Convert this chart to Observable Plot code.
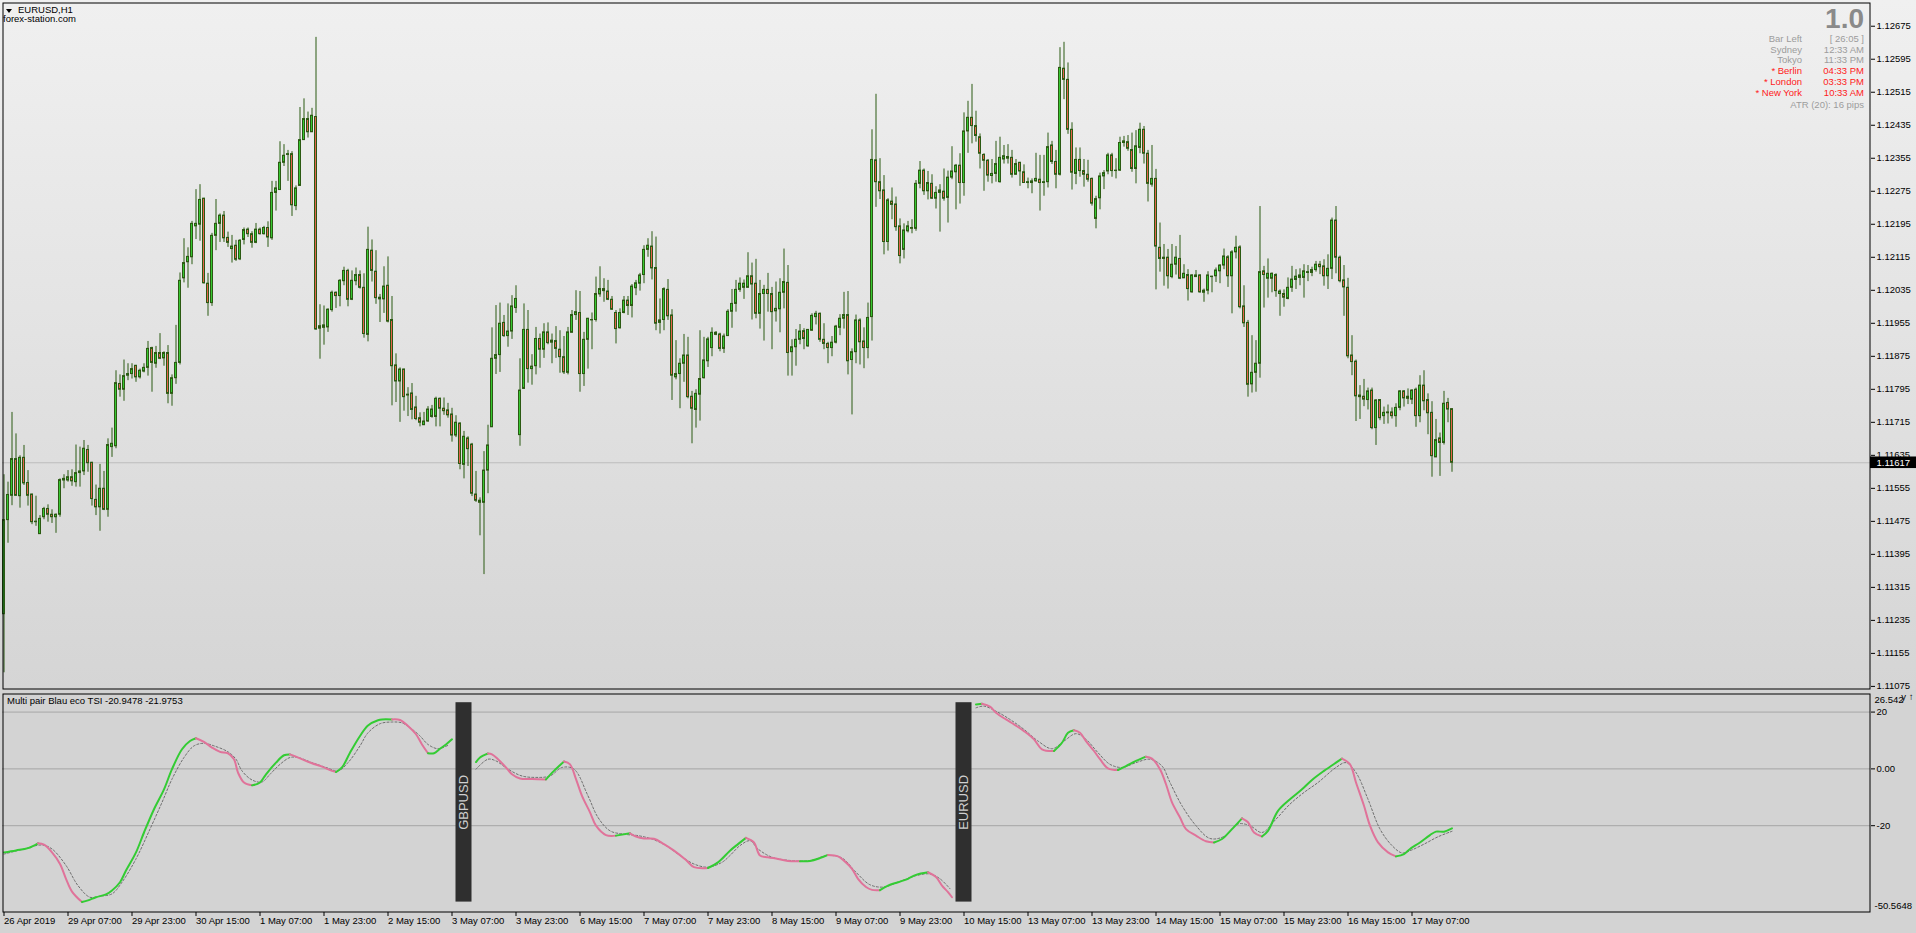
<!DOCTYPE html>
<html><head><meta charset="utf-8"><title>EURUSD,H1</title>
<script src="https://cdn.jsdelivr.net/npm/d3@7"></script>
<script src="https://cdn.jsdelivr.net/npm/@observablehq/plot@0.6"></script>
<style>
html,body{margin:0;padding:0;}
body{width:1916px;height:933px;overflow:hidden;position:relative;background:#d3d3d3;font-family:"Liberation Sans",Arial,sans-serif;}
#main{position:absolute;left:0;top:0;width:1916px;height:690px;background:linear-gradient(to bottom,#f0f0f0,#d5d5d5);}
#ind{position:absolute;left:0;top:690px;width:1916px;height:243px;background:#d3d3d3;}
#main svg,#ind svg{display:block;}
.t{position:absolute;font-size:9.5px;line-height:1;white-space:nowrap;}
</style></head><body>
<div id="main"></div>
<div id="ind"></div>
<div id="overlay"></div>
<script>
// ---------- DATA (prices in pips above 1.1100) ----------
const opens = [25,47.8,53.7,62.6,53.6,62.9,56.8,54.0,47.3,44.4,
48.5,50.5,49.1,48.5,49.1,57.4,57.4,58.2,57.0,59.2,
59.6,64.8,61.7,52.7,50.9,55.4,50.3,65.5,65.7,80.8,
79.4,82.8,83.2,85.2,82.4,83.8,84.7,89.5,85.7,88.3,
87.0,88.3,78.4,82.2,85.9,106.4,110.3,111.5,119.0,119.4,
125.7,105.1,100.4,116.7,119.6,121.6,116.2,113.5,114.3,111.0,
115.7,118.2,117.1,115.0,118.2,117.1,118.6,116.1,127.1,127.8,
134.4,136.3,136.5,123.9,128.8,139.9,145.0,141.8,145.5,94.8,
94.4,94.5,98.7,102.9,102.1,105.7,108.2,101.2,105.7,107.2,
104.1,92.7,113.1,108.0,101.3,101.3,104.6,96.3,85.3,81.4,
84.3,78.0,78.5,75.1,72.5,70.8,71.7,72.8,72.8,77.2,
74.8,74.4,73.4,68.3,71.2,61.2,67.6,66.1,54.0,52.5,
52.0,59.8,70.3,86.9,87.8,95.6,92.4,93.5,99.2,68.4,
79.6,93.9,84.4,85.1,91.7,89.1,93.3,90.8,91.2,89.1,
87.3,83.5,93.2,97.5,98.0,83.2,91.5,96.2,96.3,102.5,
103.8,103.2,101.2,98.0,94.3,98.0,101.0,99.7,104.0,105.1,
107.2,113.3,114.1,108.9,95.6,96.3,103.6,97.4,82.4,83.2,
85.7,87.7,77.7,74.5,78.2,82.2,86.3,89.5,93.2,92.8,
89.3,92.4,98.3,100.2,103.6,104.1,104.1,106.9,105.1,97.8,
102.6,103.6,102.6,98.4,98.9,102.9,105.3,88.5,89.7,91.5,
93.6,89.9,93.7,97.0,97.8,91.5,90.5,89.5,90.8,94.4,
96.6,97.5,86.6,88.5,96.2,91.1,89.5,97.0,135.0,129.7,
127.7,115.2,125.0,124.3,119.0,113.3,117.8,118.6,118.4,129.3,
132.5,127.5,129.3,125.7,127.1,127.4,125.9,130.8,132.1,133.7,
129.5,142.0,145.3,143.3,140.6,136.3,134.9,131.2,131.7,129.7,
135.2,135.4,135.6,131.5,134.4,132.1,129.5,129.5,129.9,130.3,
129.5,129.7,138.6,134.6,131.5,157.2,154.5,142.4,131.7,135.1,
132.4,131.5,130.5,120.8,125.8,131.1,132.3,136.2,132.4,132.5,
139.2,139.4,137.5,132.9,138.0,142.4,136.6,129.1,130.5,113.8,
111.1,111.4,106.7,109.7,111.1,106.4,107.2,103.0,106.7,107.1,
102.9,103.4,106.7,106.9,108.1,109.5,111.5,106.9,112.7,113.9,
99.6,95.6,80.7,83.5,85.7,108.1,106.3,106.3,107.2,102.6,
102.6,101.4,104.1,106.0,106.5,106.5,107.7,107.7,108.4,109.7,
109.3,106.9,108.7,120.4,111.4,105.9,104.1,87.7,86.2,77.6,
77.7,76.9,79.2,70.1,76.9,73.0,73.7,73.9,73.0,75.0,
79.0,77.7,77.0,79.4,73.0,80.4,76.9,73.8,63.0,67.6,
66.5,76.2,74.7];
const highs = [58.8,57.0,73.9,68.7,63.4,65.9,59.8,54.1,53.6,48.9,
50.9,51.5,50.3,49.3,57.8,58.8,59.8,60.0,66.0,65.5,
67.1,65.9,61.8,56.3,61.3,59.6,67.5,70.1,84.0,83.0,
86.6,85.7,85.7,85.3,84.4,85.7,91.1,89.7,89.9,93.0,
88.6,90.1,83.0,95.0,107.7,116.0,113.8,120.2,127.9,129.1,
125.8,107.6,117.3,125.5,122.0,122.6,117.6,116.8,115.6,115.8,
118.6,118.6,117.7,119.7,118.6,119.0,120.1,129.9,129.9,139.5,
138.8,137.4,137.1,128.8,147.8,149.9,146.7,147.6,164.8,100.0,
99.7,99.0,103.3,103.1,106.1,109.1,108.6,108.2,108.9,108.2,
107.5,118.8,115.7,113.1,102.5,109.2,111.6,102.0,88.1,84.7,
84.4,79.9,80.9,77.8,73.8,73.9,75.3,75.6,77.6,77.4,
77.4,76.1,74.9,73.1,71.4,69.3,68.0,66.4,59.6,53.2,
64.4,70.8,94.4,99.8,100.4,97.4,100.2,102.2,104.6,86.9,
100.2,98.6,87.9,94.5,92.9,95.4,95.6,92.9,94.7,93.7,
92.3,94.5,98.6,103.4,103.2,93.3,96.7,98.0,106.7,109.2,
106.3,105.9,102.0,98.6,99.0,102.0,102.0,104.9,105.9,107.6,
114.3,116.0,117.7,116.4,101.4,104.1,106.1,98.8,91.3,86.9,
92.8,92.1,79.0,79.4,93.7,92.1,92.1,94.4,93.5,93.1,
92.9,98.8,103.7,105.9,106.5,106.0,112.6,110.1,111.0,105.9,
104.7,107.6,104.2,105.5,106.3,113.5,109.5,91.5,94.0,95.2,
94.2,94.0,97.8,98.4,98.0,95.4,90.9,92.3,95.0,97.6,
103.0,103.2,89.3,97.5,96.6,94.4,100.4,142.4,151.0,135.4,
131.3,125.7,128.3,126.1,120.8,119.6,120.2,120.6,130.1,134.7,
132.9,132.3,131.5,128.6,129.1,132.9,132.4,138.3,134.0,136.6,
146.5,149.3,153.4,146.9,141.4,136.6,135.2,135.2,139.6,140.6,
138.6,138.8,137.4,135.2,134.5,133.9,130.7,130.5,136.7,136.2,
136.2,141.6,139.6,137.4,162.3,163.6,158.6,144.1,138.0,138.0,
135.2,135.0,130.7,126.3,131.9,132.5,136.7,136.7,135.4,140.6,
140.8,141.0,141.6,142.2,144.0,143.2,137.4,138.6,132.8,119.8,
114.6,113.4,114.6,114.1,116.8,109.7,108.5,107.3,108.3,107.3,
103.8,108.0,106.9,108.9,109.7,113.5,111.9,113.1,116.6,114.3,
104.6,96.2,92.5,91.3,123.8,109.3,111.1,107.7,107.5,103.6,
103.6,106.5,109.3,108.5,108.7,109.7,109.5,109.1,110.5,110.5,
110.9,112.1,121.0,123.8,111.8,109.5,106.4,92.5,86.6,80.4,
81.9,79.8,79.8,77.0,77.0,75.2,75.7,75.0,76.0,79.2,
79.2,79.6,79.4,79.8,82.8,84.0,78.4,76.5,72.2,68.9,
79.0,77.3,74.7];
const lows = [10.8,42.2,51.3,53.6,50.7,56.2,51.2,46.7,46.3,44.4,
47.9,47.3,47.0,44.6,48.5,55.4,57.0,56.0,55.8,55.8,
58.6,59.4,51.2,48.9,45.1,50.1,48.5,63.0,65.1,77.6,
76.6,81.6,82.0,81.2,82.0,83.5,82.7,78.8,84.6,86.7,
85.1,76.0,75.4,80.7,85.4,105.3,104.0,109.7,115.8,115.4,
105.0,97.2,99.6,113.1,115.1,115.1,113.9,110.1,110.5,110.7,
114.5,116.3,113.7,114.8,116.9,116.9,113.9,115.6,122.7,127.8,
133.5,129.9,121.4,122.8,128.8,139.9,140.4,141.8,93.8,86.8,
90.2,93.3,98.2,99.1,99.5,104.6,99.5,101.0,104.6,103.8,
91.9,91.0,105.5,100.1,95.7,97.9,95.6,75.5,76.3,71.5,
74.2,72.9,72.1,71.9,70.4,70.8,71.5,72.5,70.4,70.4,
73.2,72.5,66.7,67.8,60.0,57.8,60.8,53.5,52.1,44.0,
34.6,54.2,70.3,83.1,83.6,92.1,89.7,91.6,97.9,65.7,
79.6,81.0,80.5,83.0,84.6,87.0,90.3,85.7,87.0,83.4,
83.1,83.0,93.2,96.2,78.8,80.2,84.4,89.1,95.8,101.8,
100.6,101.0,98.6,90.5,94.1,97.8,97.4,96.8,102.2,103.3,
105.1,111.5,106.0,93.7,92.9,93.7,96.2,76.8,81.8,74.8,
81.2,77.2,66.3,70.1,71.8,82.0,84.8,87.4,92.5,88.6,
88.2,92.4,94.3,98.2,103.0,101.3,104.1,96.3,96.6,94.1,
91.2,98.2,89.1,95.8,93.2,99.0,82.7,82.7,85.1,90.3,
89.1,89.7,93.6,95.1,90.9,89.1,85.7,87.4,90.5,92.5,
94.1,83.0,73.3,85.7,85.4,84.5,86.9,91.2,123.6,125.5,
112.1,113.0,120.6,117.8,109.9,111.1,117.4,117.2,117.8,128.1,
126.5,125.4,125.5,123.2,117.6,125.1,119.8,130.3,123.0,124.4,
126.3,136.7,139.0,139.4,132.9,127.5,129.7,129.3,129.7,129.5,
134.1,134.1,130.7,131.5,128.7,129.5,128.1,126.9,129.7,122.7,
126.3,128.3,134.0,128.1,131.2,149.7,141.3,127.8,129.1,130.9,
128.5,129.7,123.9,118.4,123.0,127.9,131.5,130.9,130.5,132.3,
138.2,137.2,132.1,129.3,136.6,134.1,124.9,128.5,103.6,107.9,
104.5,103.8,106.3,107.2,106.1,106.4,100.9,102.8,106.7,102.8,
100.6,102.4,102.9,105.4,105.1,108.5,104.2,97.8,111.1,99.0,
94.5,77.6,78.6,78.8,82.2,99.2,101.6,102.9,101.8,97.2,
99.4,101.2,103.0,103.7,104.6,101.6,105.6,106.8,107.9,107.3,
104.5,103.7,106.1,107.5,105.3,97.2,86.9,82.8,71.7,72.2,
75.3,74.5,69.7,65.9,71.9,71.0,71.1,72.3,70.3,74.3,
75.2,75.8,75.8,70.3,71.4,74.3,68.5,58.2,63.0,58.4,
66.0,71.4,59.4];
const closes = [47.8,53.9,62.6,53.7,62.9,56.7,53.7,47.3,47.3,48.1,
50.5,49.1,48.5,49.1,57.5,57.8,58.2,57.2,59.2,59.6,
65.1,61.6,52.9,50.9,55.4,50.3,66.0,66.3,81.0,79.4,
82.7,83.2,84.4,82.4,84.0,84.7,89.3,85.9,88.3,86.9,
88.3,78.4,82.2,85.9,105.8,110.1,111.6,119.6,119.6,125.4,
105.2,100.4,116.7,119.6,121.6,116.1,115.0,114.1,110.9,115.5,
118.1,117.1,115.0,118.2,117.1,118.6,116.3,127.1,128.2,134.4,
136.1,136.5,124.1,128.2,139.9,145.0,141.8,145.8,94.0,94.2,
95.0,98.8,102.9,102.1,105.8,108.2,101.2,105.8,107.2,104.1,
92.9,113.3,108.2,101.6,101.7,104.4,95.9,85.1,81.4,84.3,
77.6,78.2,74.5,72.3,71.4,71.7,74.6,74.6,77.2,74.8,
74.2,73.2,68.3,71.4,61.4,68.0,65.0,54.2,52.5,52.0,
59.8,65.9,86.9,87.8,95.4,92.4,93.5,99.6,101.4,79.2,
93.9,84.4,85.0,91.7,89.1,93.3,90.7,91.3,89.3,87.3,
83.6,93.3,97.5,98.2,83.2,91.5,96.6,96.3,102.6,103.8,
103.3,101.2,98.8,94.1,98.0,101.0,99.7,104.4,105.2,107.1,
113.3,114.3,108.8,95.4,96.2,103.8,97.2,82.8,83.2,85.7,
87.7,77.6,74.8,78.4,82.0,86.5,91.6,93.2,92.7,89.3,
92.3,98.3,100.2,103.6,105.1,105.1,106.9,104.9,97.8,102.6,
103.6,102.6,98.2,99.0,102.9,105.5,88.3,89.7,91.5,93.5,
91.7,93.9,97.3,97.8,91.5,90.5,89.5,90.8,94.7,96.6,
97.5,86.3,88.5,96.2,90.9,89.5,96.8,135.1,129.7,127.5,
115.2,125.3,124.2,118.8,111.8,118.0,119.0,118.4,129.3,132.5,
127.5,129.5,125.7,127.1,127.7,125.7,130.8,132.3,133.7,129.5,
142.0,145.3,143.3,140.9,136.6,134.9,131.3,131.7,134.1,135.6,
136.0,135.8,131.5,134.1,132.3,129.5,129.7,129.9,130.5,129.5,
129.7,138.2,134.6,131.5,157.4,154.5,142.4,132.0,135.1,132.4,
131.5,130.3,124.5,125.6,131.1,131.9,136.2,132.4,132.5,139.2,
139.6,137.8,132.9,138.4,142.4,136.6,129.3,130.5,114.1,111.1,
111.4,106.9,109.7,111.4,106.3,107.5,103.8,107.1,107.1,103.0,
103.4,107.1,106.8,108.3,109.5,111.7,106.9,112.7,113.8,99.4,
95.5,80.6,83.5,85.7,107.9,107.2,107.5,107.5,103.3,103.2,
101.7,104.1,106.1,106.8,107.1,108.1,107.9,108.4,109.7,109.1,
106.9,108.7,120.4,111.4,105.7,104.2,87.5,86.1,77.8,78.0,
77.0,79.0,70.1,76.8,72.5,73.8,73.9,73.0,75.0,79.0,
77.3,77.2,79.2,73.0,80.4,76.6,73.7,63.3,67.2,66.5,
76.0,74.6,61.7];

const bidPrice = 1.11617;
const priceTicks = [1.12675,1.12595,1.12515,1.12435,1.12355,1.12275,1.12195,1.12115,1.12035,1.11955,1.11875,1.11795,1.11715,1.11635,1.11555,1.11475,1.11395,1.11315,1.11235,1.11155,1.11075];

const xTickBars = [0,16,32,48,64,80,96,112,128,144,160,176,192,208,224,240,256,272,288,304,320,336,352];
const xTickLabels = ["26 Apr 2019","29 Apr 07:00","29 Apr 23:00","30 Apr 15:00","1 May 07:00","1 May 23:00","2 May 15:00","3 May 07:00","3 May 23:00","6 May 15:00","7 May 07:00","7 May 23:00","8 May 15:00","9 May 07:00","9 May 23:00","10 May 15:00","13 May 07:00","13 May 23:00","14 May 15:00","15 May 07:00","15 May 23:00","16 May 15:00","17 May 07:00"];

// TSI indicator samples: [bar, value]
const tsiMainA = [[0,-29.4],[3,-28.7],[6,-27.9],[8.5,-26.2],[10,-26.7],[12,-29.4],[14,-33.5],[15.5,-38.7],[17,-43.2],[19.5,-46.9],[21,-46.3],[23,-45.2],[25.5,-44.2],[27,-42.8],[29,-39.9],[30.5,-35.8],[33,-29.4],[35,-22.4],[37.5,-14.2],[40,-7.2],[42,-0.1],[44.5,6.9],[46.5,9.8],[48,10.8],[50,9.5],[52,7.5],[54,6.0],[56,5.5],[57.5,3.4],[58.5,-1.3],[60,-4.8],[62,-5.8],[64,-4.8],[65.5,-1.9],[68,2.2],[70,4.8],[71.5,5.1],[73,4.3],[75,3.1],[77,2.0],[79.5,0.8],[82,-0.7],[83,-1.1],[84.5,0.5],[86.5,5.7],[89,11.6],[91,15.3],[93.5,17.1],[94.5,17.4],[97,17.4],[99,17.2],[101,15.1],[103,12.2],[104.5,8.6],[106,5.5],[107.5,5.5],[109,7.1],[110.5,8.6],[112,10.4]];
const tsiSigA = [[0,-30.0],[5,-28.2],[9.5,-26.8],[12,-28.2],[15.5,-34.0],[18.5,-41.1],[21.5,-45.2],[24,-44.8],[27,-44.0],[29.5,-39.9],[33,-31.7],[36.5,-21.2],[39.5,-11.8],[42,-3.6],[45,4.0],[47.5,8.1],[50,9.0],[52.5,8.1],[56,6.0],[58,3.4],[59.5,-0.7],[62,-3.9],[64.5,-4.6],[66.5,-1.9],[69,1.6],[71.5,4.0],[73.5,4.0],[77,2.2],[80.5,0.5],[83.5,-0.7],[86,2.2],[89,8.1],[91,12.7],[94,15.9],[97,16.5],[99.5,16.2],[101.5,14.5],[104,11.6],[106,8.6],[108.5,7.1],[111,8.3]];
const tsiMainB = [[118,2.4],[119,4.0],[121,5.4],[122,5.1],[123.5,3.4],[125.5,0.5],[127,-1.9],[129,-3.4],[132,-3.6],[135.5,-3.7],[137.5,-0.7],[140,2.6],[141.5,1.6],[143,-3.6],[144.5,-9.5],[146.5,-15.3],[148,-20.0],[150.5,-23.3],[153,-23.5],[156.5,-22.7],[158,-23.8],[160,-24.5],[162.5,-24.6],[165,-26.5],[167.5,-28.8],[170.5,-32.1],[172.5,-34.6],[176,-34.9],[178.5,-32.9],[181.5,-28.8],[183.5,-26.5],[185.5,-24.3],[187.5,-25.9],[189,-30.5],[191,-31.1],[193.5,-31.7],[196,-32.4],[199,-32.5],[201.5,-32.4],[204,-31.4],[206,-30.3],[208.5,-30.8],[210,-32.3],[212,-35.2],[213.5,-38.7],[215.5,-41.6],[217,-42.6],[219,-42.7],[221,-41.1],[223.5,-39.9],[226,-38.7],[228,-37.3],[231,-36.4],[233,-38.1],[234.5,-41.1],[236,-43.4],[237,-45.2]];
const tsiSigB = [[118,-0.1],[121,3.4],[123,2.8],[126,-0.1],[129.5,-2.5],[133,-3.0],[136.5,-2.5],[139.5,0.5],[142.5,-0.1],[146,-9.5],[148.5,-17.1],[151.5,-21.8],[155,-23.0],[158.5,-23.5],[162,-24.7],[165.5,-27.0],[169,-30.5],[172.5,-33.5],[176,-34.6],[179.5,-32.9],[181.5,-30.5],[184,-27.0],[186.5,-25.3],[188.5,-28.2],[192,-31.1],[197,-32.3],[201.5,-32.3],[206,-30.5],[209.5,-31.4],[213,-36.4],[216.5,-40.8],[220,-41.6],[223.5,-39.9],[228,-37.6],[231.5,-37.0],[234,-38.7],[236.5,-42.2]];
const tsiMainC = [[243,22.7],[244.5,22.9],[246.5,21.9],[248,19.8],[250.5,17.4],[252.5,15.7],[255,13.3],[257.5,10.4],[259.5,6.9],[262.5,6.3],[264.5,9.2],[266,12.7],[267.5,13.6],[269,12.7],[270.5,9.8],[272.5,6.3],[274,3.4],[276,0.2],[278.5,-0.4],[280.5,1.0],[283,2.8],[285.5,4.3],[287,3.6],[289,-0.1],[290.5,-5.4],[292,-11.8],[294,-17.1],[295.5,-21.2],[298,-23.5],[300.5,-25.5],[302.5,-25.9],[304.5,-24.7],[307,-21.2],[309.5,-17.4],[311,-18.8],[312.5,-22.4],[314.5,-23.8],[316,-21.8],[318.5,-14.8],[321.5,-10.7],[324.5,-7.2],[327,-3.9],[330,-0.7],[333,2.2],[334.5,3.6],[336.5,1.6],[338,-4.8],[340,-13.0],[341.5,-20.0],[343.5,-25.9],[346,-29.4],[348,-30.8],[350,-30.0],[351.5,-28.2],[354,-25.9],[356.5,-23.3],[358,-22.1],[360,-22.1],[362,-20.9478]];
const tsiSigC = [[243,21.5],[245,22.1],[248,20.3],[251.5,17.4],[255,13.9],[258.5,9.8],[262,7.1],[265,9.8],[268,12.4],[270.5,10.4],[273.5,5.7],[276.5,1.6],[279.5,0.5],[283,2.2],[286.5,3.4],[289.5,1.0],[291.5,-4.8],[294.5,-13.0],[298,-20.0],[301.5,-24.5],[305,-23.8],[308.5,-19.4],[311.5,-20.0],[314.5,-22.4],[318,-17.7],[321.5,-12.4],[325,-8.3],[328.5,-4.8],[333,0.5],[335.5,2.2],[338,-1.3],[341,-10.7],[344,-21.2],[347,-27.0],[349.5,-29.6],[351.5,-28.8],[355,-26.5],[358.5,-23.9],[362,-21.9753]];
const tsiLevels = [20, 0, -20];
const tsiMax = 26.542, tsiMin = -50.5648;
const pairNames = ["GBPUSD", "EURUSD"];
const pairBars = [115, 240];

// info block text
const infoLabels = ["Bar Left","Sydney","Tokyo","* Berlin","* London","* New York"];
const infoValues = ["[ 26:05 ]","12:33 AM","11:33 PM","04:33 PM","03:33 PM","10:33 AM"];
const infoRed = [false,false,false,true,true,true];

// ---------- STYLE ----------
const BULL = "#37c832", BEAR = "#e2634c", OUTLINE = "#2b5a12";
const UP = "#33cc33", DOWN = "#e0739a";
const X_DOMAIN = [-0.375, 466.625];
const FONT = "'Liberation Sans', Arial, sans-serif";

const toPrice = p => 1.11 + p / 10000;
const candles = d3.range(closes.length).map(i => {
  const o = toPrice(opens[i]), c = toPrice(closes[i]);
  return {i, o, c, h: Math.max(toPrice(highs[i]), o, c), l: Math.min(toPrice(lows[i]), o, c)};
});
const bodyOpts = {
  x1: d => d.i - 0.25, x2: d => d.i + 0.25,
  y1: "o", y2: d => (d.c === d.o ? d.o + 0.000012 : d.c),
  stroke: OUTLINE, strokeWidth: 1
};

const mainChart = Plot.plot({
  width: 1916, height: 690,
  marginLeft: 2, marginRight: 46, marginTop: 2, marginBottom: 1,
  x: {domain: X_DOMAIN, axis: null},
  y: {domain: [1.110675, 1.127325], axis: null},
  style: {background: "transparent", fontFamily: FONT, fontSize: "9.5px", color: "#000", overflow: "visible"},
  marks: [
    Plot.ruleY([bidPrice], {stroke: "#bcbcbc"}),
    Plot.ruleX(candles, {x: "i", y1: "l", y2: "h", stroke: OUTLINE, strokeWidth: 1}),
    Plot.rect(candles.filter(d => d.c >= d.o), {...bodyOpts, fill: BULL}),
    Plot.rect(candles.filter(d => d.c < d.o), {...bodyOpts, fill: BEAR}),
    Plot.frame({stroke: "#000", inset: 0.5}),
    Plot.axisY(priceTicks, {anchor: "right", tickSize: 4, tickPadding: 2, tickFormat: d => d.toFixed(5)}),
    Plot.rect([bidPrice], {x1: () => X_DOMAIN[1], x2: () => X_DOMAIN[1] + 11.5, y1: d => d - 0.00014, y2: d => d + 0.00014, fill: "#000"}),
    Plot.text([bidPrice], {x: () => X_DOMAIN[1], y: d => d, text: d => d.toFixed(5), textAnchor: "start", dx: 6, fill: "#fff"})
  ]
});
document.getElementById("main").appendChild(mainChart);

function colored(pts) {
  return pts.map((p, k) => {
    const up = k < pts.length - 1 ? pts[k + 1][1] >= p[1] : p[1] >= pts[k - 1][1];
    return {x: p[0], y: p[1], c: up ? UP : DOWN};
  });
}
const segments = [[tsiMainA, tsiSigA], [tsiMainB, tsiSigB], [tsiMainC, tsiSigC]];
const pairs = pairNames.map((name, k) => ({name, bar: pairBars[k]}));
const labelByBar = new Map(xTickBars.map((b, k) => [b, xTickLabels[k]]));

const indChart = Plot.plot({
  width: 1916, height: 243,
  marginLeft: 2, marginRight: 46, marginTop: 3, marginBottom: 21,
  x: {domain: X_DOMAIN, axis: null},
  y: {domain: [tsiMin, tsiMax], axis: null},
  color: {type: "identity"},
  style: {background: "transparent", fontFamily: FONT, fontSize: "9.5px", color: "#000", overflow: "visible"},
  marks: [
    Plot.ruleY(tsiLevels, {stroke: "#a6a6a6"}),
    Plot.rect(pairs, {x1: d => d.bar - 2, x2: d => d.bar + 2, y1: () => 23.3, y2: () => -46.9, fill: "#2f2f2f"}),
    Plot.text(pairs, {x: "bar", y: () => -11.8, text: "name", rotate: -90, fill: "#d0d0d0", fontSize: 13}),
    ...segments.map(([, sig]) => Plot.line(sig, {x: d => d[0], y: d => d[1], stroke: "#6e6e6e", strokeWidth: 1, strokeDasharray: "2,2", curve: "catmull-rom"})),
    ...segments.map(([main]) => Plot.line(colored(main), {x: "x", y: "y", z: null, stroke: "c", strokeWidth: 2, curve: "catmull-rom"})),
    Plot.frame({stroke: "#000", inset: 0.5}),
    Plot.axisY(tsiLevels, {anchor: "right", tickSize: 4, tickPadding: 2, tickFormat: d => (d === 0 ? "0.00" : String(d))}),
    Plot.text([tsiMax], {x: () => X_DOMAIN[1], y: d => d, text: d => String(d), textAnchor: "start", dx: 4, dy: 6.5}),
    Plot.text([tsiMin], {x: () => X_DOMAIN[1], y: d => d, text: d => String(d), textAnchor: "start", dx: 4, dy: -6.5}),
    Plot.axisX(xTickBars, {anchor: "bottom", tickSize: 4, tickPadding: 1, textAnchor: "start", dx: 0, tickFormat: d => labelByBar.get(d)})
  ]
});
document.getElementById("ind").appendChild(indChart);

// ---------- text overlays ----------
const ov = document.getElementById("overlay");
function addText(txt, css) {
  const el = document.createElement("div");
  el.className = "t";
  el.textContent = txt;
  Object.assign(el.style, css);
  ov.appendChild(el);
  return el;
}
const tri = document.createElement("div");
Object.assign(tri.style, {position: "absolute", left: "6px", top: "9px", width: "0", height: "0",
  borderLeft: "3.5px solid transparent", borderRight: "3.5px solid transparent", borderTop: "4px solid #000"});
ov.appendChild(tri);
addText("EURUSD,H1", {left: "18px", top: "5px", color: "#000"});
addText("forex-station.com", {left: "3px", top: "13.5px", color: "#000"});
addText("1.0", {right: "52px", top: "4.5px", color: "#8a8a8a", fontSize: "28px", fontWeight: "bold"});
infoLabels.forEach((lab, k) => {
  const col = infoRed[k] ? "#ff1a1a" : "#9c9c9c";
  const top = (33.7 + 10.8 * k) + "px";
  addText(lab, {right: "114px", top, color: col, textAlign: "right"});
  addText(infoValues[k], {right: "52px", top, color: col, textAlign: "right"});
});
addText("ATR (20): 16 pips", {right: "52px", top: "100.3px", color: "#9c9c9c"});
addText("Multi pair Blau eco TSI -20.9478 -21.9753", {left: "7px", top: "696px", color: "#000"});
</script>
</body></html>
